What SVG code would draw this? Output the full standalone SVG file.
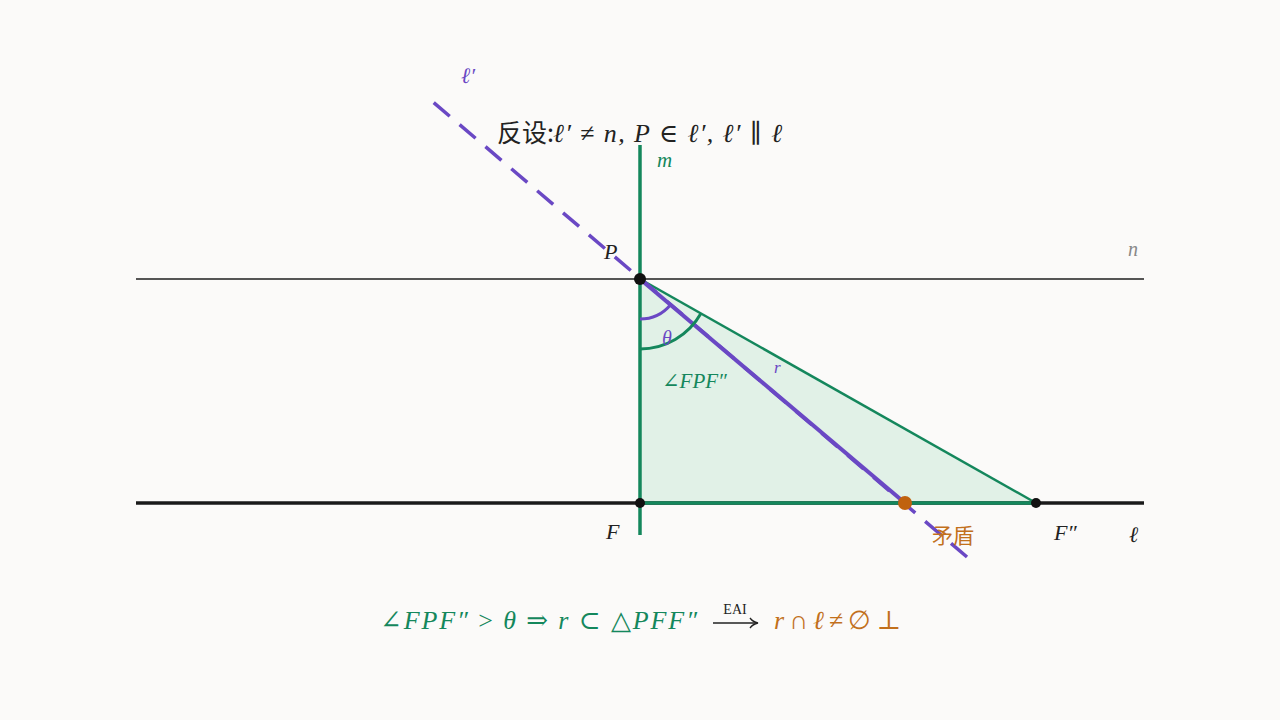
<svg xmlns="http://www.w3.org/2000/svg" width="1280" height="720" viewBox="0 0 1280 720">
<style>
.m{font-family:"Liberation Serif","DejaVu Serif",serif;font-style:italic}
.u{font-family:"Liberation Serif","DejaVu Serif",serif;font-style:normal}
.cjk{font-family:"Noto Sans CJK SC","Noto Sans",sans-serif}
.g{fill:#14875c}
.p{fill:#6a48c4}
.o{fill:#c2701c}
.k{fill:#222}
</style>
<rect width="1280" height="720" fill="#fbfaf9"/>
<g id="triangle">
<polygon points="640,279 640,503 1036,503" fill="#dcefe4" fill-opacity="0.85" stroke="none"/>
</g>
<g id="connectors" fill="none">
<line id="n" x1="136" y1="279" x2="1144" y2="279" stroke="#555" stroke-width="2"/>
<line id="l" x1="136" y1="503" x2="1144" y2="503" stroke="#1a1a1a" stroke-width="3.5"/>
<line id="m" x1="640" y1="145" x2="640" y2="535" stroke="#14875c" stroke-width="3.5"/>
<line id="FF2" x1="640" y1="503" x2="1036" y2="503" stroke="#14875c" stroke-width="3.5"/>
<line id="PF2" x1="640" y1="279" x2="1036" y2="503" stroke="#14875c" stroke-width="2.5"/>
<line id="lprime" x1="967" y1="557" x2="433" y2="102" stroke="#6a48c4" stroke-width="3.5" stroke-dasharray="21 12.98"/>
<line id="r" x1="640" y1="279" x2="905" y2="503" stroke="#6a48c4" stroke-width="4"/>
<path id="arc-theta" d="M640,319 A40,40 0 0 0 670.6,304.7" stroke="#6a48c4" stroke-width="3"/>
<path id="arc-FPF" d="M640,349 A70,70 0 0 0 700.9,313.5" stroke="#14875c" stroke-width="3"/>
</g>
<g id="P"><circle cx="640" cy="279" r="6" fill="#111"/><text class="m k" x="604" y="259" font-size="22">P</text></g>
<g id="F"><circle cx="640" cy="503" r="5" fill="#111"/><text class="m k" x="606" y="539" font-size="22">F</text></g>
<g id="F2"><circle cx="1036" cy="503" r="5" fill="#111"/><text class="m k" x="1054" y="540" font-size="22">F″</text></g>
<g id="X"><circle cx="905" cy="503" r="7" fill="#c0620f"/><text class="cjk o" x="932" y="543" font-size="21">矛盾</text></g>
<g id="labels">
<text class="m p" x="461" y="83" font-size="22">ℓ′</text>
<text class="m g" x="657" y="167" font-size="21">m</text>
<text class="m" x="1128" y="256" font-size="20" fill="#888">n</text>
<text class="m k" x="1129" y="542" font-size="22">ℓ</text>
<text class="m p" x="662" y="345" font-size="20">θ</text>
<text class="m p" x="774" y="373" font-size="17">r</text>
<text class="g" x="662" y="388" font-size="21"><tspan class="u">∠</tspan><tspan class="m">FPF″</tspan></text>
</g>
<g id="title">
<text class="cjk k" x="497" y="142" font-size="25">反设:</text>
<text class="m k" x="553" y="142" font-size="26" textLength="229" lengthAdjust="spacing">ℓ′ <tspan class="u">≠</tspan> n, P <tspan class="u">∈</tspan> ℓ′, ℓ′ <tspan class="u">∥</tspan> ℓ</text>
</g>
<g id="formula">
<text class="m g" x="380" y="629" font-size="26" textLength="317" lengthAdjust="spacing"><tspan class="u">∠</tspan>FPF″ <tspan class="u">&gt;</tspan> θ <tspan class="u">⇒</tspan> r <tspan class="u">⊂</tspan> <tspan class="u">△</tspan>PFF″</text>
<text class="u k" x="735" y="614" font-size="14" text-anchor="middle">EAI</text>
<line x1="713" y1="623" x2="756" y2="623" stroke="#222" stroke-width="1.3"/>
<path d="M750,618 Q753,622 758,623 Q753,624 750,628" fill="none" stroke="#222" stroke-width="1.3"/>
<text class="m o" x="774" y="629" font-size="26" textLength="127" lengthAdjust="spacing">r <tspan class="u">∩</tspan> ℓ <tspan class="u">≠</tspan> <tspan class="u">∅</tspan> <tspan class="u">⊥</tspan></text>
</g>
</svg>
